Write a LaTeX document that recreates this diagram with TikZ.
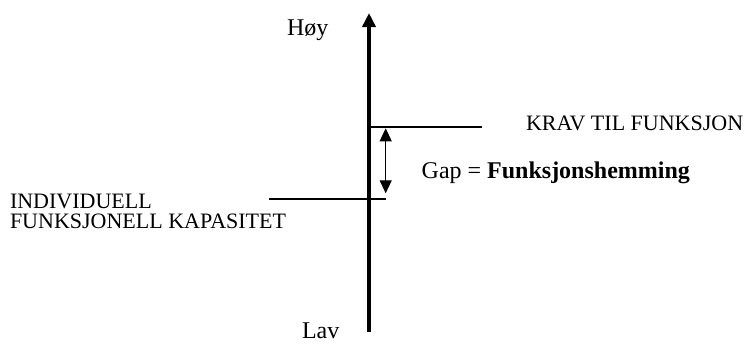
\documentclass[tikz,border=0pt]{standalone}
\usepackage{fontspec}
\setmainfont{Liberation Serif}
\usetikzlibrary{arrows.meta}
\begin{document}
\begin{tikzpicture}[x=1pt,y=-1pt,
  lbl/.style={inner sep=0pt,outer sep=0pt,anchor=base west,font=\fontsize{22}{20.5}\selectfont,align=left},
  biglbl/.style={lbl,font=\fontsize{24}{26}\selectfont},
  axis/.style={line width=3.5pt,-{Triangle[width=13pt,length=14pt]}},
  level/.style={line width=1.8pt},
  gaparrow/.style={line width=1.2pt,{Triangle[width=12pt,length=13pt]}-{Triangle[width=12pt,length=13pt]}}]
\useasboundingbox (0,0) rectangle (747,343);
\coordinate (axbot) at (369,332);
\coordinate (axtop) at (369,13);
\draw[axis] (axbot) -- (axtop);
\coordinate (u1) at (369,127.3);
\coordinate (u2) at (482,127.3);
\draw[level] (u1) -- (u2);
\coordinate (l1) at (269,199);
\coordinate (l2) at (386,199);
\draw[level] (l1) -- (l2);
\coordinate (g1) at (385.7,128.3);
\coordinate (g2) at (385.7,193.3);
\draw[gaparrow] (g1) -- (g2);
\node[biglbl] (hoy) at (287,35) {Høy};
\node[biglbl] (lav) at (302,338.5) {Lav};
\node[lbl] (krav) at (526,130.7) {KRAV TIL FUNKSJON};
\node[biglbl] (gap) at (421.7,178.3) {Gap = \textbf{Funksjonshemming}};
\node[lbl] (ind) at (10,228.5) {INDIVIDUELL\\FUNKSJONELL KAPASITET};
\end{tikzpicture}
\end{document}
